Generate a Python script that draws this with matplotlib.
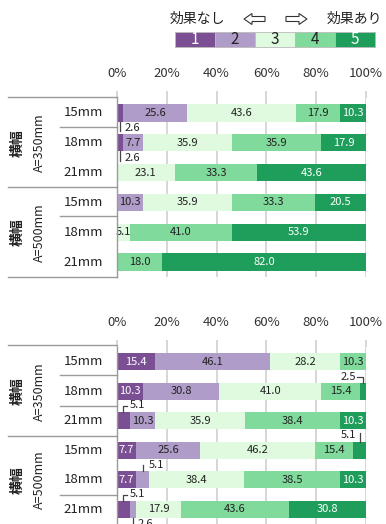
import matplotlib
matplotlib.use("Agg")
import matplotlib.pyplot as plt
from matplotlib.lines import Line2D
from matplotlib.patches import Rectangle, FancyArrow

plt.rcParams['font.family'] = ['Noto Sans CJK JP', 'DejaVu Sans']

W, H = 386, 524

# データ (評価 1〜5 の割合 %)
rows = ['15mm', '18mm', '21mm', '15mm', '18mm', '21mm']
groups = ['A=350mm', 'A=500mm']
scores = ['1', '2', '3', '4', '5']
colors = ['#7B4F93', '#B09CC8', '#DFFADF', '#80DA9B', '#1F9E5B']
text_colors = ['white', '#222222', '#222222', '#222222', 'white']

top_s1 = [2.6, 2.6, 0, 0, 0, 0]
top_s2 = [25.6, 7.7, 0, 10.3, 0, 0]
top_s3 = [43.6, 35.9, 23.1, 35.9, 5.1, 0]
top_s4 = [17.9, 35.9, 33.3, 33.3, 41.0, 18.0]
top_s5 = [10.3, 17.9, 43.6, 20.5, 53.9, 82.0]

bot_s1 = [15.4, 10.3, 5.1, 7.7, 7.7, 5.1]
bot_s2 = [46.1, 30.8, 10.3, 25.6, 5.1, 2.6]
bot_s3 = [28.2, 41.0, 35.9, 46.2, 38.4, 17.9]
bot_s4 = [10.3, 15.4, 38.4, 15.4, 38.5, 43.6]
bot_s5 = [0, 2.5, 10.3, 5.1, 10.3, 30.8]

# 外に出すラベル (row, segment, style)
top_callouts = [(0, 0, 'below'), (1, 0, 'below')]
bot_callouts = [(1, 4, 'hook_left'), (2, 0, 'corner_right'), (3, 4, 'up_left'),
                (4, 1, 'up_right'), (5, 0, 'corner_right'), (5, 1, 'below')]


def px_axes(left, right, top, bottom):
    return fig.add_axes([left / W, 1 - bottom / H, (right - left) / W, (bottom - top) / H])


def fig_line(x0, x1, y0, y1, color='#9A9A9A', lw=1.0):
    fig.add_artist(Line2D([x0 / W, x1 / W], [1 - y0 / H, 1 - y1 / H],
                          color=color, lw=lw, transform=fig.transFigure))


def draw_panel(ax, series, callouts):
    n = len(rows)
    ypos = list(range(n))
    left = [0.0] * n
    ext = {(r, s): st for r, s, st in callouts}
    for s, vals in enumerate(series):
        ax.barh(ypos, vals, left=left, height=0.58, color=colors[s], zorder=2)
        for r, v in enumerate(vals):
            if v <= 0:
                continue
            c = left[r] + v / 2
            lab = f'{v:.1f}'
            if (r, s) not in ext:
                ax.text(c, r, lab, ha='center', va='center', fontsize=8,
                        color=text_colors[s], zorder=3)
                continue
            st = ext[(r, s)]
            kw = dict(color='#444444', lw=0.9, zorder=3, clip_on=False)
            tkw = dict(fontsize=8, color='#222222', va='center', clip_on=False)
            if st == 'below':
                ax.plot([c, c], [r + 0.29, r + 0.6], **kw)
                ax.text(c + 1.8, r + 0.5, lab, ha='left', **tkw)
            elif st == 'corner_right':
                ax.plot([c, c, c + 1.4], [r - 0.29, r - 0.5, r - 0.5], **kw)
                ax.text(c + 2.4, r - 0.52, lab, ha='left', **tkw)
            elif st == 'up_left':
                ax.plot([c, c], [r - 0.29, r - 0.6], **kw)
                ax.text(c - 1.6, r - 0.52, lab, ha='right', **tkw)
            elif st == 'up_right':
                ax.plot([c, c], [r - 0.29, r - 0.5], **kw)
                ax.text(c + 2.6, r - 0.5, lab, ha='left', **tkw)
            elif st == 'hook_left':
                ax.plot([c - 2.2, c, c], [r - 0.47, r - 0.47, r - 0.29], **kw)
                ax.text(c - 2.8, r - 0.5, lab, ha='right', **tkw)
        left = [a + b for a, b in zip(left, vals)]

    ax.set_xlim(0, 100)
    ax.set_ylim(n - 0.5, -0.5)
    ax.set_xticks([0, 20, 40, 60, 80, 100])
    ax.set_xticklabels([f'{t}%' for t in [0, 20, 40, 60, 80, 100]])
    ax.set_yticks([])
    ax.xaxis.tick_top()
    ax.tick_params(axis='x', length=5, width=1.2, color='#D0D0D0', labelsize=9.5,
                   labelcolor='#333333', pad=8)
    ax.grid(axis='x', color='#D0D0D0', lw=1.2, zorder=0)
    ax.set_axisbelow(True)
    for sp in ['top', 'right', 'bottom']:
        ax.spines[sp].set_visible(False)
    ax.spines['left'].set_color('#9A9A9A')
    ax.spines['left'].set_linewidth(1.0)
    ax.spines['left'].set_zorder(4)


def draw_labels(top, step, hlines):
    for i, name in enumerate(rows):
        y = top + step * (i + 0.5)
        fig.text(103 / W, 1 - y / H, name, ha='right', va='center', fontsize=9.5,
                 color='#222222')
    for g, gname in enumerate(groups):
        yc = top + step * (3 * g + 1.5)
        fig.text(18 / W, 1 - yc / H, '横幅', rotation=90, ha='center', va='center',
                 fontsize=10, fontweight='bold', color='#222222')
        fig.text(39 / W, 1 - yc / H, gname, rotation=90, ha='center', va='center',
                 fontsize=9, color='#222222')
    for y, x0 in hlines:
        fig_line(x0, 117, y, y)


fig = plt.figure(figsize=(W / 100, H / 100), dpi=100)

ax1 = px_axes(117, 366, 98, 277)
draw_panel(ax1, [top_s1, top_s2, top_s3, top_s4, top_s5], top_callouts)
draw_labels(98, (277 - 98) / 6, [(97, 8), (127, 60), (187, 8), (216, 60), (277, 8)])

ax2 = px_axes(117, 366, 347, 524)
draw_panel(ax2, [bot_s1, bot_s2, bot_s3, bot_s4, bot_s5], bot_callouts)
draw_labels(347, (524 - 347) / 6, [(345, 8), (375, 60), (406, 60), (436, 8), (495, 60)])

# 凡例
bw = 40
for i, lab in enumerate(scores):
    x0 = 175 + i * bw
    fig.add_artist(Rectangle((x0 / W, 1 - 47 / H), bw / W, 15 / H, transform=fig.transFigure,
                             facecolor=colors[i], edgecolor='#BBBBBB', lw=0.6))
    fig.text((x0 + bw / 2) / W, 1 - 40 / H, lab, ha='center', va='center', fontsize=11,
             color=text_colors[i])
fig.text(197 / W, 1 - 19 / H, '効果なし', ha='center', va='center', fontsize=10, color='#222222')
fig.text(354 / W, 1 - 19 / H, '効果あり', ha='center', va='center', fontsize=10, color='#222222')
fig.add_artist(FancyArrow(265 / W, 1 - 19 / H, -21 / W, 0, width=5 / H, head_width=11 / H,
                          head_length=8 / W, length_includes_head=True, transform=fig.transFigure,
                          facecolor='white', edgecolor='#333333', lw=0.8))
fig.add_artist(FancyArrow(286 / W, 1 - 19 / H, 21 / W, 0, width=5 / H, head_width=11 / H,
                          head_length=8 / W, length_includes_head=True, transform=fig.transFigure,
                          facecolor='white', edgecolor='#333333', lw=0.8))

fig.savefig('out.png', dpi=100)
